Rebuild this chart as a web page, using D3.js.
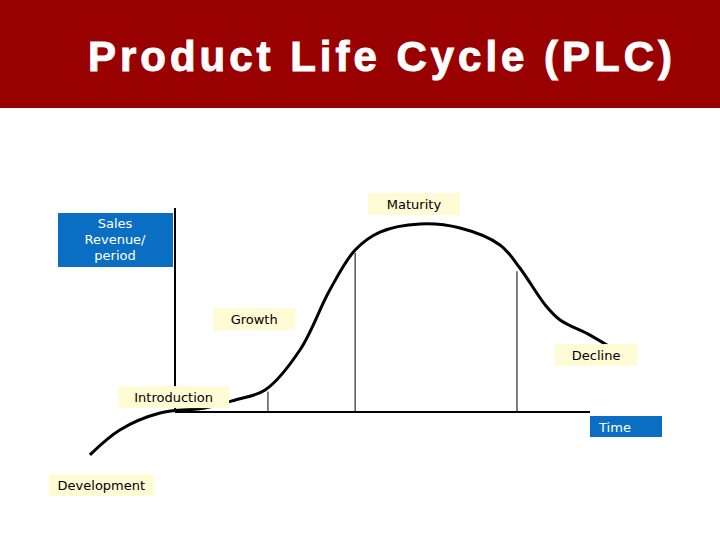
<!DOCTYPE html>
<html><head><meta charset="utf-8">
<script src="https://cdn.jsdelivr.net/npm/d3@7"></script>
<style>body{margin:0;background:#fff}svg{display:block}</style>
</head><body><svg id="c" width="720" height="540"></svg>
<script>
var timeVals  = [-20.5, -13.3, -3.6, 7.2, 14.5, 21.7, 30.1, 37.3, 43.4, 49.4, 59, 68.7, 78.3, 83.1, 89.2, 92.8, 100, 106];
var salesVals = [-21, -8.8, -0.5, 2, 5.9, 10.8, 30.4, 59.8, 79.4, 88.2, 92.2, 90.2, 81.9, 70.6, 52.5, 45.1, 37.7, 30.4];
var stageLines = [{t: 22.4, s: 10}, {t: 43.4, s: 78}, {t: 82.4, s: 69}];
var labels = [
  {text: "Maturity", t: 46.5, s: 107.4, w: 92},
  {text: "Growth", t: 9.2, s: 51, w: 82},
  {text: "Decline", t: 91.6, s: 33.3, w: 82},
  {text: "Introduction", t: -13.7, s: 12.7, w: 111},
  {text: "Development", t: -30.4, s: -30.4, w: 105}
];

var svg = d3.select("#c");
var x = d3.scaleLinear().domain([0, 100]).range([175, 590]);
var y = d3.scaleLinear().domain([0, 100]).range([412, 208]);

svg.append("rect").attr("x", 0).attr("y", 0).attr("width", 720).attr("height", 108).attr("fill", "#990000");
svg.append("text").attr("x", 88).attr("y", 71)
  .attr("font-family", "Liberation Sans, Arial, sans-serif").attr("font-weight", "bold")
  .attr("font-size", 42).attr("fill", "#fff").attr("stroke", "#fff").attr("stroke-width", 1)
  .attr("textLength", 584).attr("lengthAdjust", "spacing").text("Product Life Cycle (PLC)");

// axes
svg.append("line").attr("x1", x(0)).attr("x2", x(0)).attr("y1", y(100)).attr("y2", y(0)).attr("stroke", "#000").attr("stroke-width", 2);
svg.append("line").attr("x1", x(0)).attr("x2", x(100)).attr("y1", y(0)).attr("y2", y(0)).attr("stroke", "#000").attr("stroke-width", 2);

svg.selectAll(".stage").data(stageLines).enter().append("line")
  .attr("x1", d => x(d.t)).attr("x2", d => x(d.t)).attr("y1", d => y(d.s)).attr("y2", y(0))
  .attr("stroke", "#000").attr("stroke-width", 1);

var pts = timeVals.map((t, i) => [t, salesVals[i]]);
svg.append("path").datum(pts)
  .attr("d", d3.line().x(d => x(d[0])).y(d => y(d[1])).curve(d3.curveCatmullRom))
  .attr("fill", "none").attr("stroke", "#000").attr("stroke-width", 3);

var font = "DejaVu Sans, Verdana, sans-serif";
var g = svg.selectAll(".lab").data(labels).enter().append("g");
g.append("rect").attr("x", d => x(d.t)).attr("y", d => y(d.s)).attr("width", d => d.w).attr("height", 22).attr("fill", "#fffbd5");
g.append("text").attr("x", d => x(d.t) + d.w / 2).attr("y", d => y(d.s) + 16).attr("text-anchor", "middle")
  .attr("font-family", font).attr("font-size", 13).attr("fill", "#000").text(d => d.text);

// blue boxes
svg.append("rect").attr("x", 58).attr("y", 213).attr("width", 115).attr("height", 54).attr("fill", "#0a6fc2");
["Sales", "Revenue/", "period"].forEach(function (s, i) {
  svg.append("text").attr("x", 115).attr("y", 228 + i * 16).attr("text-anchor", "middle")
    .attr("font-family", font).attr("font-size", 13).attr("fill", "#fff").text(s);
});
svg.append("rect").attr("x", 590).attr("y", 416).attr("width", 72).attr("height", 21).attr("fill", "#0a6fc2");
svg.append("text").attr("x", 615).attr("y", 432).attr("text-anchor", "middle")
  .attr("font-family", font).attr("font-size", 13).attr("fill", "#fff").text("Time");
</script></body></html>
